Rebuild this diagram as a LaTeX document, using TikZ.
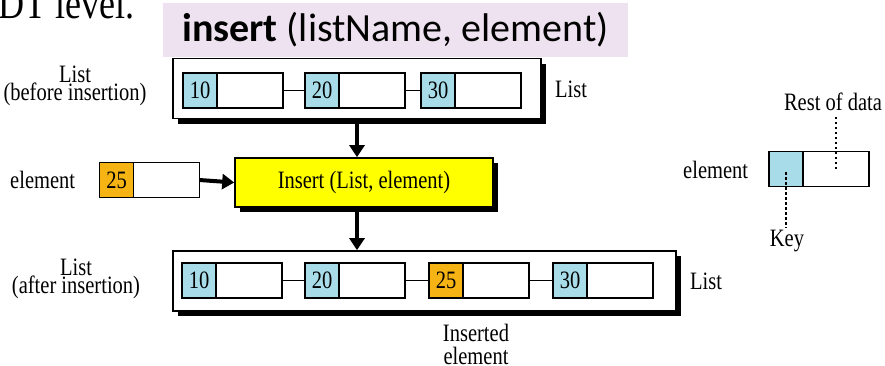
\documentclass[tikz,border=0pt]{standalone}
\usepackage{fontspec}
\setmainfont[FakeStretch=0.82]{Liberation Serif}
\newfontfamily\titlefont{Carlito}
\usetikzlibrary{positioning,shadows,arrows.meta}
\definecolor{keyblue}{RGB}{168,220,232}
\definecolor{neworange}{RGB}{245,180,20}
\definecolor{titlepink}{RGB}{239,226,240}
\definecolor{opyellow}{RGB}{255,255,0}

\begin{document}
\begin{tikzpicture}[
    x=1pt, y=-1pt,
    font=\fontsize{25}{18}\selectfont,
    key/.style={draw, line width=1.6pt, fill=keyblue, minimum width=34pt, minimum height=35pt, inner sep=0pt, outer sep=0pt},
    data/.style={draw, line width=1.6pt, fill=white, minimum width=66pt, minimum height=35pt, inner sep=0pt, outer sep=0pt},
    frame/.style={draw, line width=1.6pt, fill=white, minimum height=60pt, inner sep=0pt,
        drop shadow={fill=black, opacity=1, shadow xshift=5pt, shadow yshift=-5pt}},
    link/.style={line width=1.6pt},
    arrow/.style={-{Triangle[length=12pt,width=15pt]}, line width=4pt},
    pointer/.style={line width=2.5pt, dash pattern=on 2.5pt off 2.5pt},
    label/.style={align=center, inner sep=2pt}
]
\useasboundingbox (0,0) rectangle (885,365);

% slide heading (cut off at the top)
\node[anchor=base west, inner sep=0pt, font=\fontsize{44}{44}\selectfont] (level) at (-2,18) {DT level.};
\node[fill=titlepink, minimum width=465pt, minimum height=54pt, inner sep=0pt] (title) at (395.5,30)
    {\titlefont\fontsize{40}{40}\selectfont\textbf{insert} (listName, element)};

% List before insertion
\node[frame, minimum width=368pt] (before) at (357,88.5) {};
\node[key] (b1) at (200,90.5) {10};
\node[data, right=0pt of b1] (b1d) {};
\node[key] (b2) at (322,90.5) {20};
\node[data, right=0pt of b2] (b2d) {};
\node[key] (b3) at (438,90.5) {30};
\node[data, right=0pt of b3] (b3d) {};
\draw[link] (b1d.east) -- (b2.west);
\draw[link] (b2d.east) -- (b3.west);
\node[label, anchor=base west] (blist) at (553,97) {List};
\node[label] (btext) at (75,86) {List\\(before insertion)};

% element and the operation
\node[label, anchor=base west] (etext) at (8,188) {element};
\node[key, fill=neworange] (e1) at (116.5,180) {25};
\node[data, right=0pt of e1] (e1d) {};
\node[draw, line width=1.6pt, fill=opyellow, minimum width=258pt, minimum height=49pt, inner sep=0pt,
    drop shadow={fill=black, opacity=1, shadow xshift=5pt, shadow yshift=-5pt}] (insert) at (364,182.5)
    {Insert (List, element)};
\draw[arrow] (e1d.east) -- (insert.west);
\draw[arrow] (before.south) -- (before.south |- insert.north);

% List after insertion
\node[frame, minimum width=503pt] (after) at (424.5,281) {};
\node[key] (a1) at (199,280.5) {10};
\node[data, right=0pt of a1] (a1d) {};
\node[key] (a2) at (322,280.5) {20};
\node[data, right=0pt of a2] (a2d) {};
\node[key, fill=neworange] (a3) at (446,280.5) {25};
\node[data, right=0pt of a3] (a3d) {};
\node[key] (a4) at (570,280.5) {30};
\node[data, right=0pt of a4] (a4d) {};
\draw[link] (a1d.east) -- (a2.west);
\draw[link] (a2d.east) -- (a3.west);
\draw[link] (a3d.east) -- (a4.west);
\draw[arrow] (insert.south -| before) -- (after.north -| before);
\node[label, anchor=base west] (alist) at (688,289) {List};
\node[label] (atext) at (76,279) {List\\(after insertion)};
\node[label, font=\fontsize{25}{23}\selectfont] (inserted) at (476,344) {Inserted\\element};

% layout of one element
\node[label, anchor=base west] (ltext) at (681,178) {element};
\node[key] (lk) at (786,169) {};
\node[data, right=0pt of lk] (ld) {};
\node[label, anchor=base] (rest) at (833,110) {Rest of data};
\node[label, anchor=base] (keytext) at (787,246) {Key};
\draw[pointer, shorten >=4pt] (ld.center) -- (ld.center |- rest.south);
\draw[pointer, shorten <=3pt] (lk.center) -- (lk.center |- keytext.north);

\end{tikzpicture}
\end{document}
